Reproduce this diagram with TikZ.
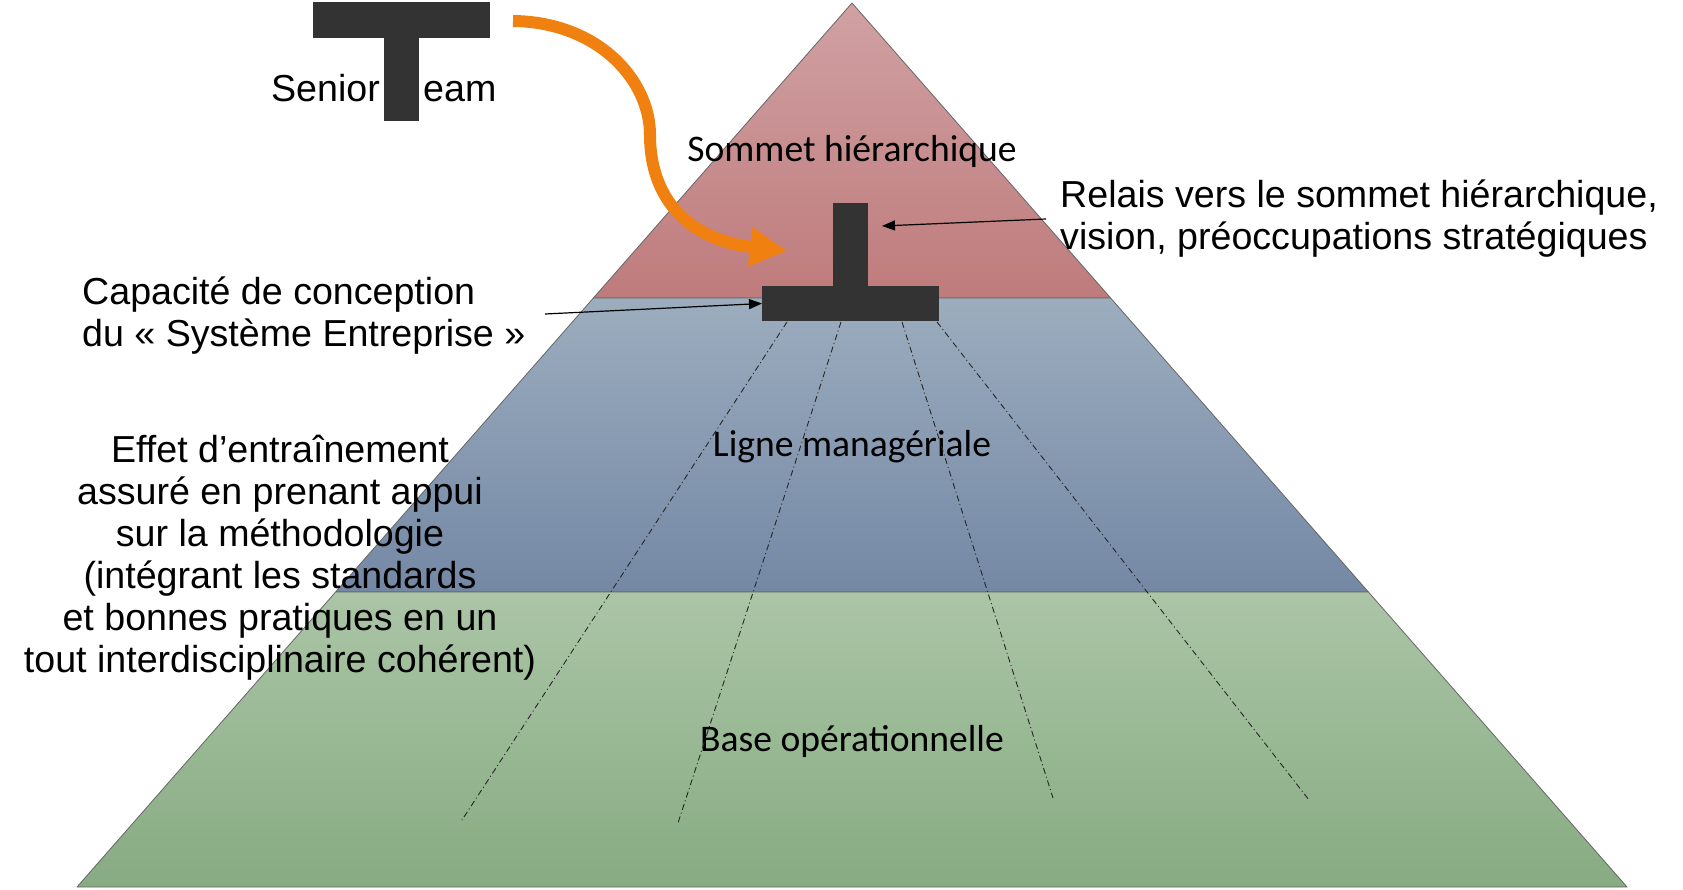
\documentclass[tikz,border=0pt]{standalone}
\usepackage{fontspec}
\setmainfont{Liberation Sans}
\newfontfamily\calib{Carlito}
\usetikzlibrary{arrows.meta}
\definecolor{redtop}{RGB}{208,161,163}
\definecolor{redbot}{RGB}{191,123,124}
\definecolor{bluetop}{RGB}{156,173,190}
\definecolor{bluebot}{RGB}{116,136,165}
\definecolor{greentop}{RGB}{171,197,166}
\definecolor{greenbot}{RGB}{135,171,130}
\definecolor{tdark}{RGB}{51,51,51}
\definecolor{orangeA}{RGB}{240,128,16}
\newcommand\firststrut{\rule{0pt}{30pt}}
\begin{document}
\begin{tikzpicture}[x=1pt,y=-1pt,
  tier/.style={draw=black!60,line width=0.8pt,line join=round},
  bar/.style={fill=tdark,draw=none,inner sep=0pt,outer sep=0pt},
  body/.style={font=\fontsize{37.6}{42}\selectfont,inner sep=0pt,text=black},
  layer/.style={font=\calib\fontsize{37.6}{45}\selectfont,inner sep=0pt,anchor=base,text=black},
  ptr/.style={line width=1.2pt,black,-{Triangle[width=10pt,length=13pt]}},
  ray/.style={line width=0.9pt,black!85,dash pattern=on 6pt off 3pt on 1pt off 3pt},
  flow/.style={line width=12pt,orangeA,-{Triangle[width=37pt,length=37pt]}}]
\useasboundingbox (0,0) rectangle (1683,890);

% pyramid tiers
\shade[tier,top color=redtop,bottom color=redbot]
  (852,3) -- (1110.6,298) -- (593.4,298) -- cycle;
\shade[tier,top color=bluetop,bottom color=bluebot]
  (593.4,298) -- (1110.6,298) -- (1368.4,592) -- (335.6,592) -- cycle;
\shade[tier,top color=greentop,bottom color=greenbot]
  (335.6,592) -- (1368.4,592) -- (1627,887) -- (77,887) -- cycle;

% layer labels
\node[layer] (sommet) at (852,162) {Sommet hiérarchique};
\node[layer] (ligne) at (852,456) {Ligne managériale};
\node[layer] (base) at (852,751) {Base opérationnelle};

% dashed rays
\coordinate (r1s) at (787,322); \coordinate (r1e) at (462,820);
\coordinate (r2s) at (841,322); \coordinate (r2e) at (678,823);
\coordinate (r3s) at (902,322); \coordinate (r3e) at (1053,798);
\coordinate (r4s) at (937,322); \coordinate (r4e) at (1309,800);
\draw[ray] (r1s) -- (r1e);
\draw[ray] (r2s) -- (r2e);
\draw[ray] (r3s) -- (r3e);
\draw[ray] (r4s) -- (r4e);

% inverted T inside the pyramid
\node[bar,minimum width=177pt,minimum height=35pt] (tbase) at (850.5,303.5) {};
\node[bar,minimum width=35pt,minimum height=83pt] (tstem) at (850.5,244.5) {};

% Senior Team T
\node[bar,minimum width=177pt,minimum height=36pt] (stop) at (401.5,20) {};
\node[bar,minimum width=35pt,minimum height=83pt] (sstem) at (401.5,79.5) {};
\node[body,anchor=base east] (senior) at (380,102) {Senior};
\node[body,anchor=base west] (eam) at (423,102) {eam};

% orange arrow
\coordinate (flowStart) at (513,21);
\coordinate (flowTip) at (787,251);
\draw[flow] (flowStart) .. controls (598,22) and (650,80) .. (650,135)
  .. controls (650,200) and (690,240) .. (flowTip);

% right annotation
\node[body,anchor=north west,align=left] (relais) at (1060,177)
  {\firststrut Relais vers le sommet hiérarchique,\\vision, préoccupations stratégiques};
\coordinate (relaisTail) at (1046,219);
\coordinate (relaisTip) at (882,226);
\draw[ptr] (relaisTail) -- (relaisTip);

% left annotations
\node[body,anchor=north west,align=left] (capacite) at (82,274)
  {\firststrut Capacité de conception\\du « Système Entreprise »};
\coordinate (capTail) at (545,314);
\draw[ptr] (capTail) -- (tbase.west);

\node[body,anchor=north,align=center] (effet) at (280,432)
  {\firststrut Effet d’entraînement\\assuré en prenant appui\\sur la méthodologie\\(intégrant les standards\\et bonnes pratiques en un\\tout interdisciplinaire cohérent)};
\end{tikzpicture}
\end{document}
